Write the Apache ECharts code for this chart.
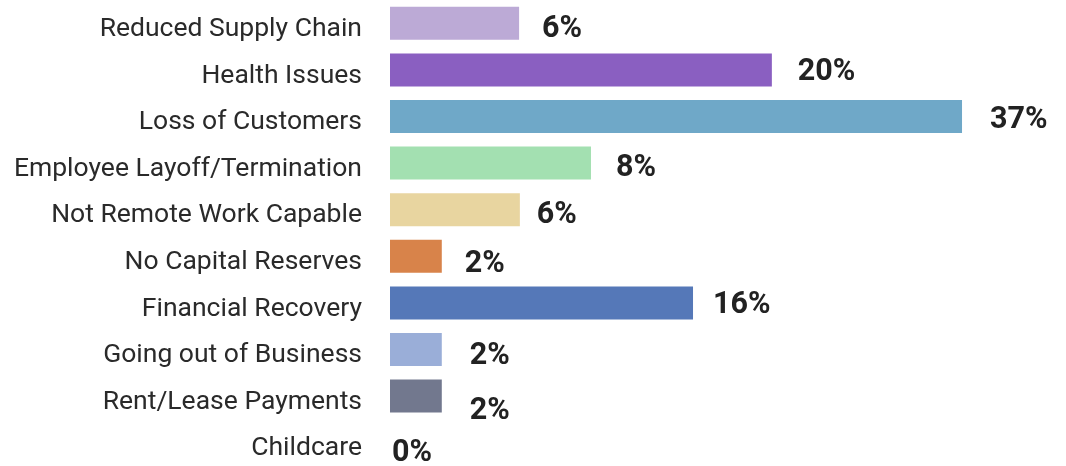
<!DOCTYPE html>
<html>
<head>
<meta charset="utf-8">
<script src="https://cdn.jsdelivr.net/npm/echarts@6/dist/echarts.min.js"></script>
<style>
html,body{margin:0;padding:0;background:#fff;}
#chart{width:1066px;height:466px;}
</style>
</head>
<body>
<div id="chart"></div>
<script>
// Categories, top to bottom
const categories = [
  "Reduced Supply Chain",
  "Health Issues",
  "Loss of Customers",
  "Employee Layoff/Termination",
  "Not Remote Work Capable",
  "No Capital Reserves",
  "Financial Recovery",
  "Going out of Business",
  "Rent/Lease Payments",
  "Childcare"
];
// Bar lengths as drawn
const barValues = [8.35, 24.7, 37, 13.0, 8.4, 3.35, 19.6, 3.35, 3.35, 0];
// Printed labels
const valueLabels = ["6%", "20%", "37%", "8%", "6%", "2%", "16%", "2%", "2%", "0%"];
const barColors = ["#bcaad6", "#8a5fc1", "#6fa8c8", "#a3e0b1", "#e8d5a0",
                   "#d8834a", "#5578b8", "#9aaed8", "#72788e", "#cccccc"];

// label placement tweaks (style only)
const labelDist = [23, 26, 28, 25, 17, 23, 20, 28, 28, 2];
const labelDy = [6, 2, 4, 5, 5.5, 8, 2, 7, 15, 11];

const chart = echarts.init(document.getElementById('chart'));
chart.setOption({
  animation: false,
  grid: {left: 390, right: 57.6, top: -1, bottom: -3, containLabel: false},
  xAxis: {type: 'value', min: 0, max: 40, show: false},
  yAxis: {
    type: 'category', data: categories, inverse: true,
    axisLine: {show: false}, axisTick: {show: false},
    axisLabel: {
      margin: 28,
      formatter: '{a|{value}}',
      rich: {
        a: {fontFamily: 'Roboto', fontSize: 26.5, color: '#2a2a2a', padding: [12, 0, 0, 0]}
      }
    }
  },
  series: [{
    type: 'bar',
    barWidth: 33,
    data: barValues.map((v, i) => ({
      value: v,
      itemStyle: {color: barColors[i]},
      label: {distance: labelDist[i], offset: [0, labelDy[i]]}
    })),
    label: {
      show: true, position: 'right',
      fontFamily: 'Roboto', fontWeight: 'bold', fontSize: 30.5, color: '#222',
      formatter: p => valueLabels[p.dataIndex]
    }
  }]
});
</script>
</body>
</html>
